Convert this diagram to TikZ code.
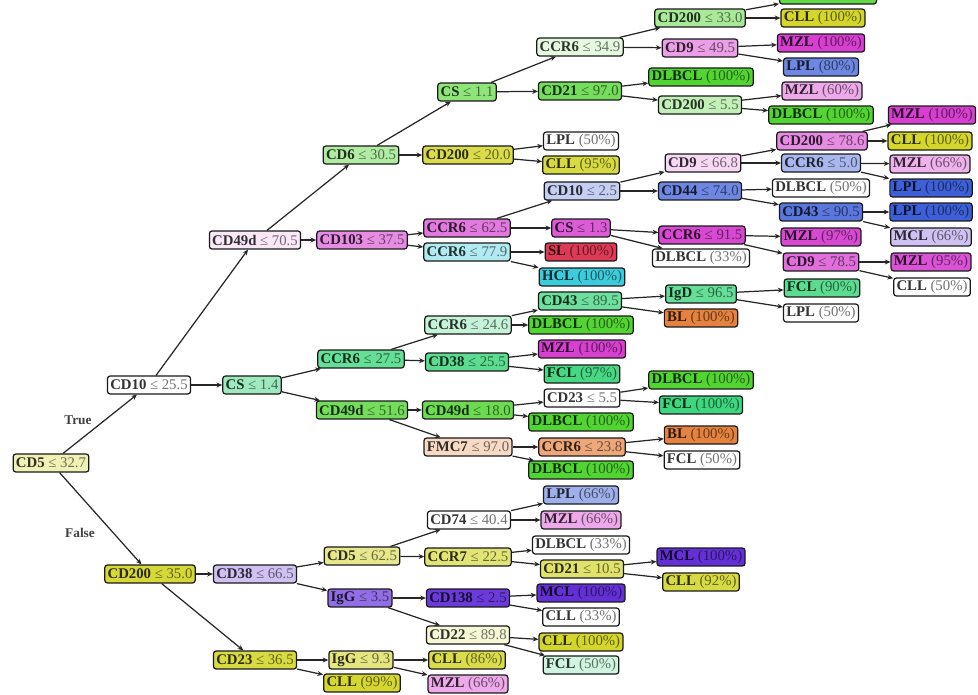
\documentclass[tikz,border=0pt]{standalone}
\usepackage{fontspec}
\setmainfont{Liberation Serif}
\usepackage{xstring}
\usetikzlibrary{arrows.meta}
\definecolor{cll}{HTML}{D4D62C}
\definecolor{dlbcl}{HTML}{52D533}
\definecolor{fcl}{HTML}{3ED67E}
\definecolor{mzl}{HTML}{D63FD0}
\definecolor{lpl}{HTML}{3D5FD8}
\definecolor{mcl}{HTML}{6330D8}
\definecolor{bl}{HTML}{E5823F}
\definecolor{sl}{HTML}{DC3A55}
\definecolor{hcl}{HTML}{3DCCDB}
\newcommand{\nd}[2]{\textbf{#1} \textcolor{lite}{#2}}
\tikzset{
  box/.style 2 args={draw=black!90, line width=0.7pt, rounded corners=1.5pt,
    fill=#1!#2!white, text=#1!#2!white!20!black,
    execute at begin node={\colorlet{lite}{#1!#2!white!45!black}},
    inner xsep=1.6pt, inner ysep=0.8pt, minimum height=10.2pt,
    font=\fontsize{8.4}{9}\selectfont},
  edge/.style={-{Stealth[length=3.2pt,width=2.8pt]}, line width=0.7pt, black!85},
  lab/.style={font=\fontsize{7.6}{9}\selectfont\bfseries, text=black!75},
}
\begin{document}
\begin{tikzpicture}[x=0.02cm,y=-0.02cm]
\useasboundingbox (0,0) rectangle (978,694);
% root and first splits
\node[box={cll}{35}] (r) at (51,463) {\nd{CD5}{≤ 32.7}};
\node[box={cll}{0}] (rt) at (149,385) {\nd{CD10}{≤ 25.5}};
\node[box={cll}{95}] (rf) at (150,574) {\nd{CD200}{≤ 35.0}};
\node[lab] (true) at (78,420) {True};
\node[lab] (false) at (80,533) {False};
% upper branch
\node[box={mzl}{12}] (rtt) at (255,240) {\nd{CD49d}{≤ 70.5}};
\node[box={fcl}{50}] (rtf) at (252,385) {\nd{CS}{≤ 1.4}};
\node[box={dlbcl}{45}] (rttt) at (361,155) {\nd{CD6}{≤ 30.5}};
\node[box={mzl}{60}] (rttf) at (362,240) {\nd{CD103}{≤ 37.5}};
\node[box={dlbcl}{65}] (rtttt) at (467,92) {\nd{CS}{≤ 1.1}};
\node[box={cll}{85}] (rtttf) at (468,155) {\nd{CD200}{≤ 20.0}};
\node[box={dlbcl}{15}] (rttttt) at (580,47) {\nd{CCR6}{≤ 34.9}};
\node[box={dlbcl}{80}] (rttttf) at (580,91) {\nd{CD21}{≤ 97.0}};
\node[box={dlbcl}{50}] (rtttttt) at (700,18) {\nd{CD200}{≤ 33.0}};
\node[box={mzl}{50}] (rtttttf) at (700,48) {\nd{CD9}{≤ 49.5}};
\node[box={dlbcl}{90}, minimum width=1.94cm] (rttttttt) at (828,-5) {};
\node[box={cll}{100}] (rttttttf) at (823,18) {\nd{CLL}{(100\%)}};
\node[box={mzl}{100}] (rtttttft) at (821,43) {\nd{MZL}{(100\%)}};
\node[box={lpl}{75}] (rtttttff) at (821,67) {\nd{LPL}{(80\%)}};
\node[box={dlbcl}{100}] (rttttft) at (701,77) {\nd{DLBCL}{(100\%)}};
\node[box={dlbcl}{35}] (rttttff) at (700,105) {\nd{CD200}{≤ 5.5}};
\node[box={mzl}{45}] (rttttfft) at (822,91) {\nd{MZL}{(60\%)}};
\node[box={dlbcl}{100}] (rttttfff) at (821,115) {\nd{DLBCL}{(100\%)}};
\node[box={lpl}{0}] (rtttft) at (581,141) {\nd{LPL}{(50\%)}};
\node[box={cll}{90}] (rtttff) at (581,165) {\nd{CLL}{(95\%)}};
\node[box={mzl}{70}] (rttft) at (467,228) {\nd{CCR6}{≤ 62.5}};
\node[box={hcl}{40}] (rttff) at (467,252) {\nd{CCR6}{≤ 77.9}};
\node[box={lpl}{30}] (rttftt) at (582,191) {\nd{CD10}{≤ 2.5}};
\node[box={mzl}{85}] (rttftf) at (581,228) {\nd{CS}{≤ 1.3}};
\node[box={mzl}{20}] (rttfttt) at (703,163) {\nd{CD9}{≤ 66.8}};
\node[box={lpl}{75}] (rttfttf) at (700,191) {\nd{CD44}{≤ 74.0}};
\node[box={mzl}{60}] (rttftttt) at (822,141) {\nd{CD200}{≤ 78.6}};
\node[box={lpl}{45}] (rttftttf) at (821,163) {\nd{CCR6}{≤ 5.0}};
\node[box={mzl}{100}] (rttfttttt) at (932,115) {\nd{MZL}{(100\%)}};
\node[box={cll}{100}] (rttfttttf) at (930,141) {\nd{CLL}{(100\%)}};
\node[box={mzl}{40}] (rttftttft) at (930,164) {\nd{MZL}{(66\%)}};
\node[box={lpl}{100}] (rttftttff) at (931,188) {\nd{LPL}{(100\%)}};
\node[box={lpl}{0}] (rttfttft) at (821,188) {\nd{DLBCL}{(50\%)}};
\node[box={lpl}{85}] (rttfttff) at (821,212) {\nd{CD43}{≤ 90.5}};
\node[box={lpl}{100}] (rttfttfft) at (931,212) {\nd{LPL}{(100\%)}};
\node[box={mcl}{30}] (rttfttfff) at (931,237) {\nd{MCL}{(66\%)}};
\node[box={mzl}{95}] (rttftft) at (702,235) {\nd{CCR6}{≤ 91.5}};
\node[box={lpl}{0}] (rttftff) at (701,258) {\nd{DLBCL}{(33\%)}};
\node[box={mzl}{95}] (rttftftt) at (821,237) {\nd{MZL}{(97\%)}};
\node[box={mzl}{75}] (rttftftf) at (821,262) {\nd{CD9}{≤ 78.5}};
\node[box={mzl}{90}] (rttftftft) at (931,262) {\nd{MZL}{(95\%)}};
\node[box={lpl}{0}] (rttftftff) at (932,287) {\nd{CLL}{(50\%)}};
\node[box={sl}{100}] (rttfft) at (581,252) {\nd{SL}{(100\%)}};
\node[box={hcl}{100}] (rttfff) at (582,277) {\nd{HCL}{(100\%)}};
% CS <= 1.4 branch
\node[box={fcl}{80}] (rtft) at (361,359) {\nd{CCR6}{≤ 27.5}};
\node[box={dlbcl}{80}] (rtff) at (362,410) {\nd{CD49d}{≤ 51.6}};
\node[box={fcl}{30}] (rtftt) at (468,325) {\nd{CCR6}{≤ 24.6}};
\node[box={fcl}{85}] (rtftf) at (467,362) {\nd{CD38}{≤ 25.5}};
\node[box={fcl}{75}] (rtfttt) at (580,301) {\nd{CD43}{≤ 89.5}};
\node[box={dlbcl}{100}] (rtfttf) at (581,325) {\nd{DLBCL}{(100\%)}};
\node[box={fcl}{80}] (rtftttt) at (701,294) {\nd{IgD}{≤ 96.5}};
\node[box={bl}{100}] (rtftttf) at (701,318) {\nd{BL}{(100\%)}};
\node[box={fcl}{85}] (rtfttttt) at (822,288) {\nd{FCL}{(90\%)}};
\node[box={lpl}{0}] (rtfttttf) at (821,313) {\nd{LPL}{(50\%)}};
\node[box={mzl}{100}] (rtftft) at (582,349) {\nd{MZL}{(100\%)}};
\node[box={fcl}{95}] (rtftff) at (582,374) {\nd{FCL}{(97\%)}};
\node[box={dlbcl}{85}] (rtfft) at (468,410) {\nd{CD49d}{≤ 18.0}};
\node[box={bl}{30}] (rtfff) at (468,447) {\nd{FMC7}{≤ 97.0}};
\node[box={lpl}{0}] (rtfftt) at (582,398) {\nd{CD23}{≤ 5.5}};
\node[box={dlbcl}{100}] (rtfftf) at (581,422) {\nd{DLBCL}{(100\%)}};
\node[box={dlbcl}{100}] (rtffttt) at (701,380) {\nd{DLBCL}{(100\%)}};
\node[box={fcl}{100}] (rtffttf) at (701,405) {\nd{FCL}{(100\%)}};
\node[box={bl}{70}] (rtffft) at (582,447) {\nd{CCR6}{≤ 23.8}};
\node[box={dlbcl}{100}] (rtffff) at (581,470) {\nd{DLBCL}{(100\%)}};
\node[box={bl}{100}] (rtffftt) at (701,435) {\nd{BL}{(100\%)}};
\node[box={lpl}{0}] (rtffftf) at (702,460) {\nd{FCL}{(50\%)}};
% lower branch
\node[box={mcl}{30}] (rft) at (255,574) {\nd{CD38}{≤ 66.5}};
\node[box={cll}{90}] (rff) at (255,660) {\nd{CD23}{≤ 36.5}};
\node[box={cll}{55}] (rftt) at (362,556) {\nd{CD5}{≤ 62.5}};
\node[box={mcl}{70}] (rftf) at (360,598) {\nd{IgG}{≤ 3.5}};
\node[box={lpl}{0}] (rfttt) at (469,520) {\nd{CD74}{≤ 40.4}};
\node[box={cll}{65}] (rfttf) at (468,557) {\nd{CCR7}{≤ 22.5}};
\node[box={lpl}{50}] (rftttt) at (581,495) {\nd{LPL}{(66\%)}};
\node[box={mzl}{45}] (rftttf) at (581,520) {\nd{MZL}{(66\%)}};
\node[box={lpl}{0}] (rfttft) at (581,545) {\nd{DLBCL}{(33\%)}};
\node[box={cll}{70}] (rfttff) at (582,569) {\nd{CD21}{≤ 10.5}};
\node[box={mcl}{100}] (rfttfft) at (701,557) {\nd{MCL}{(100\%)}};
\node[box={cll}{90}] (rfttfff) at (701,582) {\nd{CLL}{(92\%)}};
\node[box={mcl}{95}] (rftft) at (468,598) {\nd{CD138}{≤ 2.5}};
\node[box={cll}{20}] (rftff) at (468,635) {\nd{CD22}{≤ 89.8}};
\node[box={mcl}{100}] (rftftt) at (581,593) {\nd{MCL}{(100\%)}};
\node[box={lpl}{0}] (rftftf) at (581,617) {\nd{CLL}{(33\%)}};
\node[box={cll}{100}] (rftfft) at (581,642) {\nd{CLL}{(100\%)}};
\node[box={fcl}{25}] (rftfff) at (581,665) {\nd{FCL}{(50\%)}};
\node[box={cll}{60}] (rfft) at (361,660) {\nd{IgG}{≤ 9.3}};
\node[box={cll}{98}] (rfff) at (362,683) {\nd{CLL}{(99\%)}};
\node[box={cll}{85}] (rfftt) at (467,660) {\nd{CLL}{(86\%)}};
\node[box={mzl}{45}] (rfftf) at (468,684) {\nd{MZL}{(66\%)}};
% each edge runs from the parent (name minus last letter)
\foreach \c in {rt,rf,rtt,rtf,rttt,rttf,rtttt,rtttf,rttttt,rttttf,rtttttt,rtttttf,
  rttttttt,rttttttf,rtttttft,rtttttff,rttttft,rttttff,rttttfft,rttttfff,rtttft,rtttff,
  rttft,rttff,rttftt,rttftf,rttfttt,rttfttf,rttftttt,rttftttf,rttfttttt,rttfttttf,
  rttftttft,rttftttff,rttfttft,rttfttff,rttfttfft,rttfttfff,rttftft,rttftff,rttftftt,
  rttftftf,rttftftft,rttftftff,rttfft,rttfff,rtft,rtff,rtftt,rtftf,rtfttt,rtfttf,
  rtftttt,rtftttf,rtfttttt,rtfttttf,rtftft,rtftff,rtfft,rtfff,rtfftt,rtfftf,rtffttt,
  rtffttf,rtffft,rtffff,rtffftt,rtffftf,rft,rff,rftt,rftf,rfttt,rfttf,rftttt,rftttf,
  rfttft,rfttff,rfttfft,rfttfff,rftft,rftff,rftftt,rftftf,rftfft,rftfff,rfft,rfff,
  rfftt,rfftf}{
  \StrGobbleRight{\c}{1}[\p]
  \draw[edge] (\p) -- (\c);
}
\end{tikzpicture}
\end{document}
